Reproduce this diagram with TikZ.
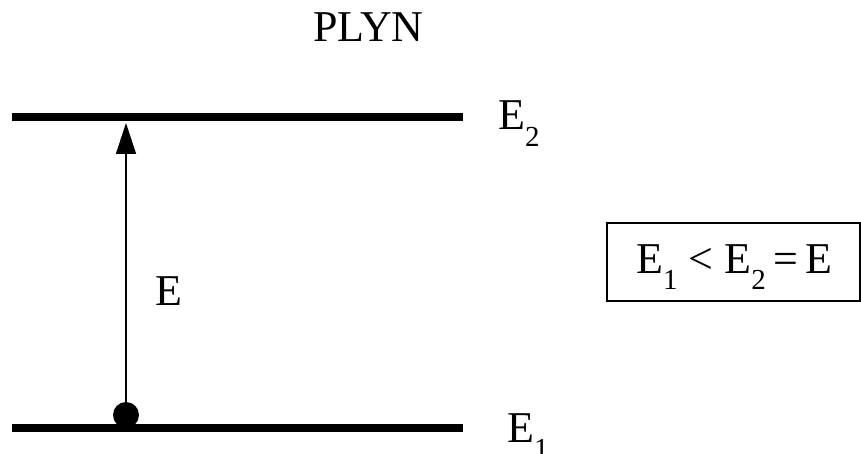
\documentclass[tikz,border=0pt]{standalone}
\usepackage{fontspec}
\setmainfont{Liberation Serif}
\usetikzlibrary{arrows.meta}
\newcommand\lowsub[1]{\raisebox{-0.38em}{\fontsize{29}{29}\selectfont #1}}
\tikzset{
  level/.style={line width=8pt},
  lbl/.style={inner sep=0pt, anchor=base west, font=\fontsize{44}{44}\selectfont},
  dotn/.style={circle, fill=black, minimum size=26pt, inner sep=0pt},
  trans/.style={line width=1.5pt, -{Triangle[width=20pt,length=31pt]}},
  framebox/.style={draw, line width=1.3pt, minimum width=253pt, minimum height=78pt, inner sep=0pt}
}
\begin{document}
\begin{tikzpicture}[x=1pt,y=-1pt]
\useasboundingbox (0,0) rectangle (861,454);
\draw[level] (12,117) -- (463,117);
\draw[level] (12,428) -- (463,428);
\node[dotn] (dot) at (126,415) {};
\coordinate (top) at (126,123);
\draw[trans] (dot.center) -- (top);
\node[lbl] (title) at (313,42) {PLYN};
\node[lbl] (e) at (155,305) {E};
\node[lbl] (e2) at (498,130) {E\lowsub{2}};
\node[lbl] (e1) at (507,442) {E\lowsub{1}};
\node[framebox] (box) at (733.5,262) {};
\node[lbl] (rel) at (636,273) {E\lowsub{1} \textless{} E\lowsub{2}\,=\,E};
\end{tikzpicture}
\end{document}
